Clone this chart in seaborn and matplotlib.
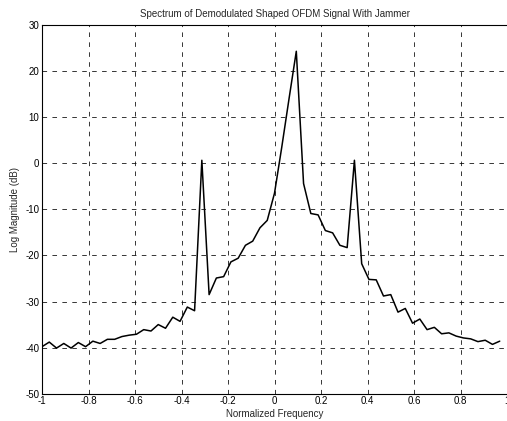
import numpy as np
import pandas as pd
import seaborn as sns
import matplotlib.pyplot as plt

# Normalized frequency bins (64-point spectrum)
freq = [-1.0, -0.96875, -0.9375, -0.90625, -0.875, -0.84375, -0.8125, -0.78125,
        -0.75, -0.71875, -0.6875, -0.65625, -0.625, -0.59375, -0.5625, -0.53125,
        -0.5, -0.46875, -0.4375, -0.40625, -0.375, -0.34375, -0.3125, -0.28125,
        -0.25, -0.21875, -0.1875, -0.15625, -0.125, -0.09375, -0.0625, -0.03125,
        0.0, 0.03125, 0.0625, 0.09375, 0.125, 0.15625, 0.1875, 0.21875,
        0.25, 0.28125, 0.3125, 0.34375, 0.375, 0.40625, 0.4375, 0.46875,
        0.5, 0.53125, 0.5625, 0.59375, 0.625, 0.65625, 0.6875, 0.71875,
        0.75, 0.78125, 0.8125, 0.84375, 0.875, 0.90625, 0.9375, 0.96875]

# Log magnitude (dB)
mag_db = [-39.8, -38.8, -40.1, -39.1, -40.1, -38.9, -39.8, -38.6,
          -39.1, -38.2, -38.2, -37.6, -37.3, -37.1, -36.1, -36.4,
          -35.0, -35.8, -33.4, -34.3, -31.2, -32.0, 0.65, -28.5,
          -24.9, -24.6, -21.4, -20.6, -17.8, -16.9, -14.0, -12.4,
          -6.5, 3.5, 14.0, 24.3, -4.4, -10.9, -11.2, -14.6,
          -15.1, -17.8, -18.3, 0.65, -21.8, -25.2, -25.3, -28.8,
          -28.5, -32.3, -31.5, -34.7, -33.8, -36.1, -35.6, -37.0,
          -36.8, -37.5, -37.9, -38.1, -38.7, -38.4, -39.3, -38.6]

x_ticks = [-1, -0.8, -0.6, -0.4, -0.2, 0, 0.2, 0.4, 0.6, 0.8, 1]
x_tick_labels = ['-1', '-0.8', '-0.6', '-0.4', '-0.2', '0', '0.2', '0.4', '0.6', '0.8', '1']
y_ticks = [-50, -40, -30, -20, -10, 0, 10, 20, 30]

df = pd.DataFrame({'freq': freq, 'mag': mag_db})

sns.set_style('white')
plt.rcParams['font.family'] = ['Liberation Sans', 'DejaVu Sans']
plt.rcParams['axes.unicode_minus'] = False

fig = plt.figure(figsize=(5.07, 4.21), dpi=100)
ax = fig.add_axes([42 / 507, 1 - 393.7 / 421, 465 / 507, (393.7 - 25) / 421])

sns.lineplot(data=df, x='freq', y='mag', color='black', linewidth=1.1, ax=ax)

ax.set_xlim(-1, 1)
ax.set_ylim(-50, 30)
ax.set_xticks(x_ticks)
ax.set_xticklabels(x_tick_labels)
ax.set_yticks(y_ticks)

# MATLAB-like dashed grid
ax.grid(True, color='black', linestyle=(0, (6, 7)), linewidth=0.55)
ax.set_axisbelow(True)
ax.tick_params(direction='in', length=3, width=0.6, labelsize=7, colors='black', pad=2)

for side in ['left', 'top', 'bottom']:
    ax.spines[side].set_color('black')
    ax.spines[side].set_linewidth(0.8)
ax.spines['right'].set_visible(False)

ax.set_title('Spectrum of Demodulated Shaped OFDM Signal With Jammer', fontsize=7, pad=6)
ax.set_xlabel('Normalized Frequency', fontsize=7, labelpad=2)
ax.set_ylabel('Log Magnitude (dB)', fontsize=7, labelpad=4)

fig.savefig('out.png', dpi=100)
